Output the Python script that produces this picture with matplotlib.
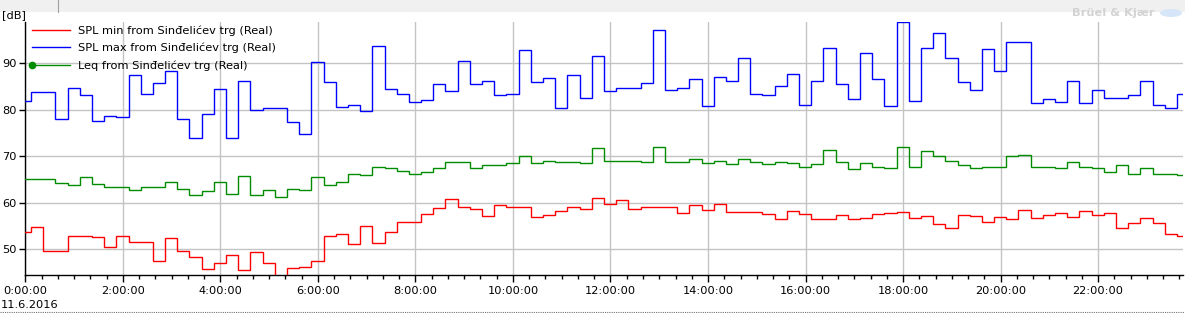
import numpy as np
import matplotlib
matplotlib.use('Agg')
import matplotlib.pyplot as plt
from matplotlib.lines import Line2D
from matplotlib.patches import Rectangle, Ellipse
from matplotlib.ticker import FixedLocator, MultipleLocator, FuncFormatter

# 15-minute intervals, first one starts 8 min before midnight (values in dB)
interval_h = 0.25
first_start_h = -8 / 60

spl_min = [53.7, 54.7, 49.6, 49.6, 52.8, 52.8, 52.6, 50.4, 52.8, 51.5, 51.5, 47.4,
           52.4, 49.6, 48.3, 45.7, 47.0, 48.7, 45.5, 49.4, 47.0, 43.5, 45.9, 46.1,
           47.4, 52.8, 53.2, 51.1, 54.9, 51.3, 53.7, 55.8, 55.8, 57.5, 58.8, 60.8,
           59.0, 58.6, 57.1, 59.5, 59.2, 59.0, 56.9, 57.3, 58.2, 59.0, 58.6, 61.0,
           59.7, 60.5, 58.6, 59.2, 59.2, 59.0, 57.7, 59.5, 58.4, 59.7, 58.0, 58.0,
           58.0, 57.5, 56.5, 58.2, 57.5, 56.5, 56.5, 57.3, 56.5, 56.7, 57.5, 57.7,
           58.0, 56.7, 57.1, 55.4, 54.5, 57.3, 57.1, 55.8, 56.9, 56.5, 58.4, 56.7,
           57.3, 57.7, 56.9, 58.2, 57.3, 57.7, 54.5, 55.6, 56.7, 55.6, 53.2, 52.8]

spl_max = [81.8, 83.8, 83.8, 78.0, 84.8, 83.1, 77.7, 78.6, 78.4, 87.4, 83.5, 85.7,
           88.4, 78.0, 73.9, 79.2, 84.4, 73.9, 86.3, 80.0, 80.3, 80.5, 77.3, 74.7,
           90.2, 86.0, 80.7, 81.0, 79.7, 93.7, 84.4, 83.5, 81.6, 82.1, 85.5, 84.0,
           90.6, 85.5, 86.3, 83.1, 83.5, 92.8, 85.9, 86.8, 80.5, 87.6, 82.5, 91.5,
           84.0, 84.8, 84.8, 85.7, 97.1, 84.2, 84.8, 86.6, 80.8, 87.0, 86.3, 91.1,
           83.5, 83.1, 85.1, 87.8, 81.0, 86.3, 93.2, 85.5, 82.3, 92.2, 86.6, 80.8,
           98.8, 82.0, 93.4, 96.5, 91.1, 85.9, 84.2, 93.0, 88.3, 94.5, 94.7, 81.4,
           82.3, 81.6, 86.3, 81.4, 84.2, 82.5, 82.5, 83.1, 86.3, 81.0, 80.3, 83.5]

leq = [65.2, 65.2, 65.2, 64.2, 63.8, 65.5, 64.1, 63.3, 63.3, 62.7, 63.5, 63.3,
       64.4, 62.9, 61.6, 62.5, 64.4, 61.8, 65.7, 61.6, 62.7, 61.2, 62.9, 62.7,
       65.5, 63.8, 64.4, 66.1, 65.9, 67.8, 67.4, 66.8, 66.1, 66.6, 67.4, 68.7,
       68.7, 67.4, 68.1, 68.1, 68.5, 70.0, 68.5, 69.1, 68.7, 68.7, 68.5, 71.7,
       69.1, 68.9, 68.9, 68.7, 71.9, 68.7, 68.7, 69.4, 68.5, 69.1, 68.3, 69.4,
       68.7, 68.3, 68.7, 68.5, 67.8, 68.3, 71.3, 68.7, 67.2, 68.5, 67.8, 67.4,
       71.9, 67.6, 71.1, 70.0, 69.1, 68.1, 67.4, 67.6, 67.6, 70.0, 70.2, 67.6,
       67.6, 67.4, 68.7, 67.8, 67.4, 66.6, 68.1, 66.3, 67.4, 66.3, 66.1, 65.9]

labels = ['SPL min from Sinđelićev trg (Real)',
          'SPL max from Sinđelićev trg (Real)',
          'Leq from Sinđelićev trg (Real)']
colors = ['#ff0000', '#0000ff', '#008c00']
y_ticks = [50, 60, 70, 80, 90]
date_label = '11.6.2016'

plt.rcParams['font.family'] = ['DejaVu Sans']
FS = 8.2

W, H = 1185, 313
fig = plt.figure(figsize=(W / 100, H / 100), dpi=100)
fig.patch.set_facecolor('white')

# plot area in pixels: x 25.3..1183, y 22..275.3 (from top)
ax = fig.add_axes([25.3 / W, (H - 275.3) / H, (1183 - 25.3) / W, (275.3 - 22) / H])

edges = first_start_h + interval_h * np.arange(len(spl_min) + 1)
for vals, c in zip([spl_min, spl_max, leq], colors):
    ax.stairs(vals, edges, baseline=None, color=c, lw=1.0, zorder=3)

ax.set_xlim(0, 23.74)
ax.set_ylim(44.4, 98.9)

ax.xaxis.set_major_locator(MultipleLocator(2))
ax.xaxis.set_minor_locator(MultipleLocator(1 / 3))
ax.xaxis.set_major_formatter(FuncFormatter(lambda v, p: f"{int(round(v))}:00:00"))
ax.yaxis.set_major_locator(FixedLocator(y_ticks))

ax.grid(True, which='major', color='#c4c4c4', lw=1.0, zorder=0)
ax.set_axisbelow(True)

for s in ['top', 'right']:
    ax.spines[s].set_visible(False)
for s in ['left', 'bottom']:
    ax.spines[s].set_color('black')
    ax.spines[s].set_linewidth(1.0)

ax.tick_params(axis='x', which='major', length=5, width=1, pad=3, labelsize=FS, colors='black')
ax.tick_params(axis='x', which='minor', length=3, width=1, colors='black')
ax.tick_params(axis='y', which='major', length=4, width=1, pad=2, labelsize=FS, colors='black')

# legend (no frame), green entry has a dot at the start of its line only
handles = [Line2D([], [], color=colors[0], lw=1.0),
           Line2D([], [], color=colors[1], lw=1.0),
           Line2D([], [], color=colors[2], lw=1.0, marker='o', ms=4.5)]
leg = ax.legend(handles, labels, loc='upper left', bbox_to_anchor=(0.0, 1.0),
                frameon=False, fontsize=FS, handlelength=3.9, handletextpad=0.45,
                labelspacing=0.6, borderaxespad=0.0, borderpad=0.3, numpoints=2)
for ln in leg.findobj(Line2D):
    if ln.get_marker() == 'o':
        ln.set_markevery([0])

# unit label, date and window bits
fig.text(2 / W, 1 - 15 / H, '[dB]', fontsize=FS, ha='left', va='center', color='black')
fig.text(1 / W, 1 - 305 / H, date_label, fontsize=FS, ha='left', va='center', color='black')
fig.text(1155 / W, 1 - 13 / H, 'Brüel & Kjær', fontsize=FS, ha='right', va='center',
         color='#d2d2d2', weight='bold')
fig.patches.append(Ellipse((1171 / W, 1 - 13 / H), 22 / W, 8 / H, transform=fig.transFigure,
                           facecolor='#d6e6f8', edgecolor='none'))

fig.patches.append(Rectangle((0, 1 - 12 / H), 1, 12 / H, transform=fig.transFigure,
                             facecolor='#f0f0f0', edgecolor='none', zorder=0))
fig.lines.append(Line2D([58 / W, 58 / W], [1 - 12 / H, 1], transform=fig.transFigure,
                        color='#a0a0a0', lw=0.8))
fig.lines.append(Line2D([0, 1], [1.5 / H, 1.5 / H], transform=fig.transFigure,
                        color='#707070', lw=0.8, ls=(0, (1, 1))))

fig.savefig('out.png', dpi=100)
